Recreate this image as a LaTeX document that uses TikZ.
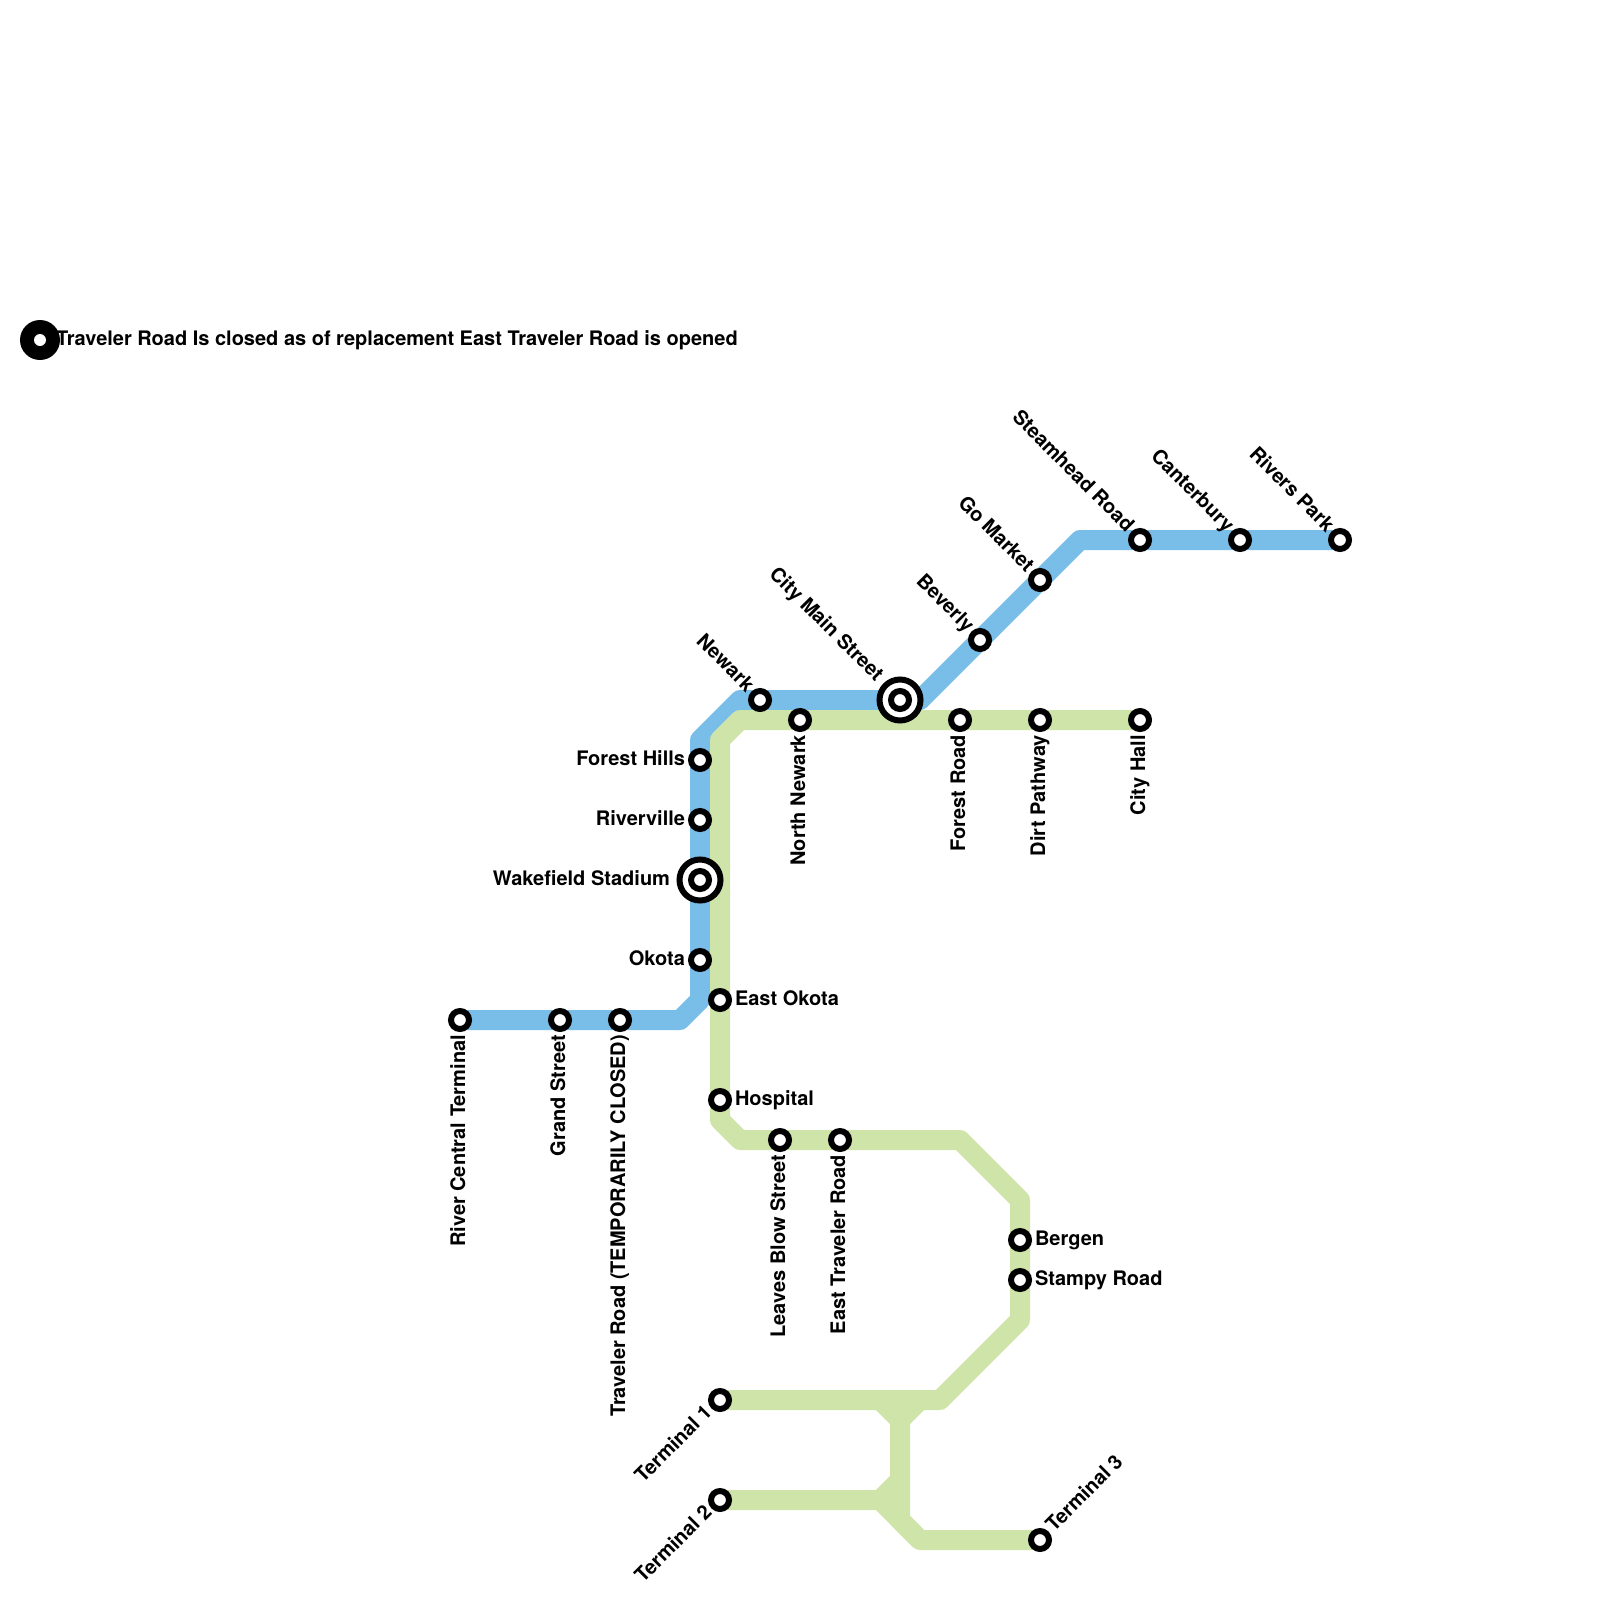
\documentclass[tikz,border=0pt]{standalone}
\usepackage{fontspec}
\setmainfont{TeX Gyre Heros}
\definecolor{blueline}{HTML}{79BDE9}
\definecolor{greenline}{HTML}{CFE4A9}
\tikzset{
  metro/.style={line width=20pt,line join=round,line cap=butt},
  stn/.style={circle,draw=black,fill=white,line width=6pt,minimum size=18pt,inner sep=0pt},
  hub/.style={circle,draw=black,fill=white,line width=6pt,minimum size=41pt,inner sep=0pt},
  lbl/.style={inner sep=0pt,outer sep=0pt,text=black,font=\fontsize{20}{22}\selectfont\bfseries},
  lleft/.style={lbl,anchor=base east},
  lright/.style={lbl,anchor=base west},
  ldown/.style={lbl,anchor=base east,rotate=90},
  lnw/.style={lbl,anchor=base east,rotate=-45},
  lsw/.style={lbl,anchor=base east,rotate=45},
  lne/.style={lbl,anchor=base west,rotate=45},
}
\begin{document}
\begin{tikzpicture}[x=1pt,y=-1pt]
\useasboundingbox (0,0) rectangle (1600,1600);
% station positions
\coordinate (rct) at (460,1020);
\coordinate (grs) at (560,1020);
\coordinate (trr) at (620,1020);
\coordinate (okt) at (700,960);
\coordinate (wak) at (700,880);
\coordinate (riv) at (700,820);
\coordinate (fhl) at (700,760);
\coordinate (nwk) at (760,700);
\coordinate (cms) at (900,700);
\coordinate (bev) at (980,640);
\coordinate (gom) at (1040,580);
\coordinate (sth) at (1140,540);
\coordinate (can) at (1240,540);
\coordinate (rvp) at (1340,540);
\coordinate (cth) at (1140,720);
\coordinate (drt) at (1040,720);
\coordinate (frd) at (960,720);
\coordinate (nnw) at (800,720);
\coordinate (eok) at (720,1000);
\coordinate (hos) at (720,1100);
\coordinate (lbs) at (780,1140);
\coordinate (etr) at (840,1140);
\coordinate (ber) at (1020,1240);
\coordinate (stp) at (1020,1280);
\coordinate (tm1) at (720,1400);
\coordinate (tm2) at (720,1500);
\coordinate (tm3) at (1040,1540);
% bends
\coordinate (b1) at (680,1020);
\coordinate (b2) at (700,1000);
\coordinate (b3) at (700,740);
\coordinate (b4) at (740,700);
\coordinate (b5) at (920,700);
\coordinate (b6) at (1080,540);
\coordinate (g1) at (740,720);
\coordinate (g2) at (720,740);
\coordinate (g3) at (720,1120);
\coordinate (g4) at (740,1140);
\coordinate (g5) at (960,1140);
\coordinate (g6) at (1020,1200);
\coordinate (g7) at (1020,1320);
\coordinate (g8) at (940,1400);
\coordinate (g9) at (880,1400);
\coordinate (g10) at (900,1420);
\coordinate (g11) at (920,1400);
\coordinate (g12) at (900,1480);
\coordinate (g13) at (880,1500);
\coordinate (g14) at (900,1520);
\coordinate (g15) at (920,1540);
% lines
\draw[metro,blueline] (rct) -- (b1) -- (b2) -- (b3) -- (b4) -- (b5) -- (b6) -- (rvp);
\draw[metro,greenline] (cth) -- (g1) -- (g2) -- (g3) -- (g4) -- (g5) -- (g6) -- (g7) -- (g8) -- (tm1);
\draw[metro,greenline] (g9) -- (g10) -- (g11);
\draw[metro,greenline] (g10) -- (g14) -- (g15);
\draw[metro,greenline] (tm2) -- (g13) -- (g12);
\draw[metro,greenline] (g13) -- (g15) -- (tm3);
% stations
\node[stn] (nrct) at (rct) {};
\node[stn] (ngrs) at (grs) {};
\node[stn] (ntrr) at (trr) {};
\node[stn] (nokt) at (okt) {};
\node[hub] (hwak) at (wak) {};
\node[stn] (nwak) at (wak) {};
\node[stn] (nriv) at (riv) {};
\node[stn] (nfhl) at (fhl) {};
\node[stn] (nnwk) at (nwk) {};
\node[hub] (hcms) at (cms) {};
\node[stn] (ncms) at (cms) {};
\node[stn] (nbev) at (bev) {};
\node[stn] (ngom) at (gom) {};
\node[stn] (nsth) at (sth) {};
\node[stn] (ncan) at (can) {};
\node[stn] (nrvp) at (rvp) {};
\node[stn] (ncth) at (cth) {};
\node[stn] (ndrt) at (drt) {};
\node[stn] (nfrd) at (frd) {};
\node[stn] (nnnw) at (nnw) {};
\node[stn] (neok) at (eok) {};
\node[stn] (nhos) at (hos) {};
\node[stn] (nlbs) at (lbs) {};
\node[stn] (netr) at (etr) {};
\node[stn] (nber) at (ber) {};
\node[stn] (nstp) at (stp) {};
\node[stn] (ntm1) at (tm1) {};
\node[stn] (ntm2) at (tm2) {};
\node[stn] (ntm3) at (tm3) {};
% legend
\coordinate (lg) at (40,340);
\node[circle,fill=black,minimum size=40pt,inner sep=0pt] (lgo) at (lg) {};
\node[circle,fill=white,minimum size=12pt,inner sep=0pt] (lgi) at (lg) {};
\node[lright] (tlg) at ([shift={(16,5)}]lg) {Traveler Road Is closed as of replacement East Traveler Road is opened};
% labels
\node[ldown] (trct) at ([shift={(5,15)}]rct) {River Central Terminal};
\node[ldown] (tgrs) at ([shift={(5,15)}]grs) {Grand Street};
\node[ldown] (ttrr) at ([shift={(5,15)}]trr) {Traveler Road (TEMPORARILY CLOSED)};
\node[lleft] (tokt) at ([shift={(-15,5)}]okt) {Okota};
\node[lleft] (twak) at ([shift={(-30,5)}]wak) {Wakefield Stadium};
\node[lleft] (triv) at ([shift={(-15,5)}]riv) {Riverville};
\node[lleft] (tfhl) at ([shift={(-15,5)}]fhl) {Forest Hills};
\node[lnw] (tnwk) at ([shift={(-14.1,-7.1)}]nwk) {Newark};
\node[lnw] (tcms) at ([shift={(-24.7,-17.7)}]cms) {City Main Street};
\node[lnw] (tbev) at ([shift={(-14.1,-7.1)}]bev) {Beverly};
\node[lnw] (tgom) at ([shift={(-14.1,-7.1)}]gom) {Go Market};
\node[lnw] (tsth) at ([shift={(-14.1,-7.1)}]sth) {Steamhead Road};
\node[lnw] (tcan) at ([shift={(-14.1,-7.1)}]can) {Canterbury};
\node[lnw] (trvp) at ([shift={(-14.1,-7.1)}]rvp) {Rivers Park};
\node[ldown] (tcth) at ([shift={(5,15)}]cth) {City Hall};
\node[ldown] (tdrt) at ([shift={(5,15)}]drt) {Dirt Pathway};
\node[ldown] (tfrd) at ([shift={(5,15)}]frd) {Forest Road};
\node[ldown] (tnnw) at ([shift={(5,15)}]nnw) {North Newark};
\node[lright] (teok) at ([shift={(15,5)}]eok) {East Okota};
\node[lright] (thos) at ([shift={(15,5)}]hos) {Hospital};
\node[ldown] (tlbs) at ([shift={(5,15)}]lbs) {Leaves Blow Street};
\node[ldown] (tetr) at ([shift={(5,15)}]etr) {East Traveler Road};
\node[lright] (tber) at ([shift={(15,5)}]ber) {Bergen};
\node[lright] (tstp) at ([shift={(15,5)}]stp) {Stampy Road};
\node[lsw] (ttm1) at ([shift={(-7.1,14.1)}]tm1) {Terminal 1};
\node[lsw] (ttm2) at ([shift={(-7.1,14.1)}]tm2) {Terminal 2};
\node[lne] (ttm3) at ([shift={(14.1,-7.1)}]tm3) {Terminal 3};
\end{tikzpicture}
\end{document}
